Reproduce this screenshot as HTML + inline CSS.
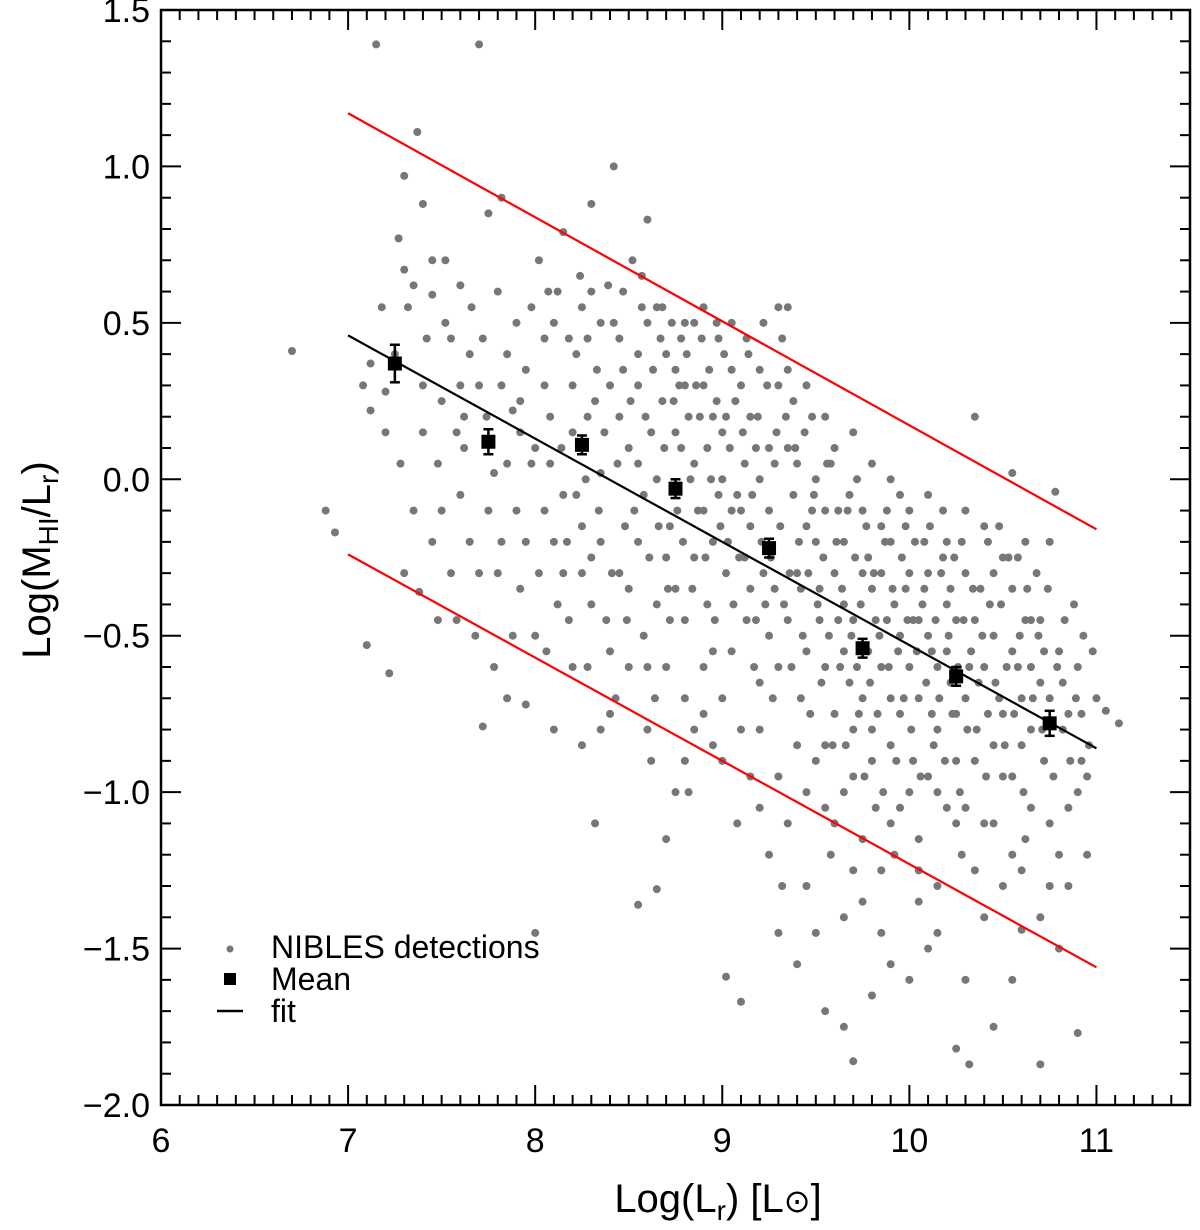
<!DOCTYPE html>
<html><head><meta charset="utf-8">
<style>
html,body{margin:0;padding:0;background:#fff;}
svg{display:block;font-family:"Liberation Sans",Arial,sans-serif;}
</style></head>
<body>
<svg id="chart" width="1200" height="1230" viewBox="0 0 1200 1230" xmlns="http://www.w3.org/2000/svg">
<g id="dots"></g>
<g id="lines"></g>
<g id="means"></g>
<g id="axes"></g>
<g>
  <circle cx="230" cy="949" r="3.5" fill="#777"/>
  <text x="271" y="958" font-size="32">NIBLES detections</text>
  <rect x="224" y="973" width="12" height="12" fill="#000"/>
  <text x="271" y="990" font-size="32">Mean</text>
  <line x1="217" y1="1011" x2="243" y2="1011" stroke="#000" stroke-width="2.5"/>
  <text x="271" y="1022" font-size="32">fit</text>
</g>
<text x="718" y="1212" font-size="40" text-anchor="middle">Log(L<tspan font-size="28" dy="8">r</tspan><tspan dy="-8">) [L</tspan><tspan font-size="32">⊙</tspan>]</text>
<text transform="translate(50,560) rotate(-90)" font-size="40" text-anchor="middle">Log(M<tspan font-size="28" dy="8">HI</tspan><tspan dy="-8">/L</tspan><tspan font-size="28" dy="8">r</tspan><tspan dy="-8">)</tspan></text>
</svg>
<script>
const xTicks=[6,7,8,9,10,11];
const yTicks=[1.5,1.0,0.5,0.0,-0.5,-1.0,-1.5,-2.0];
const yTickLabels=["1.5","1.0","0.5","0.0","\u22120.5","\u22121.0","\u22121.5","\u22122.0"];
const meanX=[7.25,7.75,8.25,8.75,9.25,9.75,10.25,10.75];
const meanY=[0.37,0.12,0.11,-0.03,-0.22,-0.54,-0.63,-0.78];
const meanErr=[0.06,0.04,0.03,0.03,0.03,0.03,0.03,0.04];
const fitLine=[[7,0.46],[11,-0.86]];
const upperLine=[[7,1.17],[11,-0.16]];
const lowerLine=[[7,-0.24],[11,-1.56]];
const pts=[
[6.7,0.41],[6.88,-0.1],[6.93,-0.17],[7.15,1.39],[7.7,1.39],[7.37,1.11],[8.42,1.0],[7.27,0.77],[7.1,-0.53],[7.22,-0.62],[7.3,-0.3],[7.38,-0.36],[7.72,-0.79],[8.3,0.88],[8.15,0.79],[8.6,0.83],[10.35,0.2],[10.55,0.02],[10.78,-0.04],[11.12,-0.78],[11.05,-0.74],[10.9,-1.77],[10.7,-1.87],[10.25,-1.82],[10.32,-1.87],[9.7,-1.86],[9.65,-1.75],[9.1,-1.67],[9.02,-1.59],[8.55,-1.36],[8.32,-1.1],[7.85,-0.7],[7.95,-0.72],[8.65,-1.31],[9.4,-1.55],[9.85,-1.45],[10.0,-1.6],[10.5,-1.3],[10.6,-1.44],[10.45,-1.75],[10.8,-1.5],[8.0,-1.45],[7.3,0.97],[7.4,0.88],[7.3,0.67],[7.45,0.59],[7.18,0.55],[7.08,0.3],[7.12,0.22],[7.2,0.15],[7.28,0.05],[7.35,-0.1],[7.4,0.3],[7.48,0.05],[7.5,0.25],[7.55,0.45],[7.6,0.62],[7.62,0.1],[7.65,-0.2],[7.58,-0.45],[7.68,-0.5],[7.75,0.85],[7.8,0.6],[7.82,0.9],[7.85,0.4],[7.88,0.22],[7.9,-0.1],[7.92,-0.35],[7.78,-0.6],[7.7,0.3],[7.98,0.55],[8.02,0.7],[8.05,0.3],[8.08,0.05],[8.1,-0.2],[8.12,-0.4],[8.06,-0.55],[8.18,0.45],[8.2,0.15],[8.22,-0.05],[8.25,-0.3],[8.28,-0.6],[8.3,0.6],[8.33,0.35],[8.35,0.02],[8.38,-0.45],[8.4,-0.75],[8.42,0.5],[8.45,0.2],[8.48,-0.15],[8.5,-0.35],[8.52,0.7],[8.55,0.4],[8.58,-0.05],[8.6,-0.6],[8.62,-0.9],[8.65,0.55],[8.68,0.25],[8.7,-0.25],[8.72,-0.45],[8.75,0.35],[8.78,0.1],[8.8,-0.7],[8.82,-1.0],[8.85,0.5],[8.88,0.2],[8.9,-0.1],[8.92,-0.4],[8.95,-0.85],[8.98,0.45],[9.0,0.15],[9.02,-0.3],[9.05,-0.55],[9.08,-1.1],[9.1,0.3],[9.12,0.05],[9.15,-0.15],[9.18,-0.45],[9.2,-0.8],[9.22,0.5],[9.25,0.1],[9.28,-0.35],[9.3,-0.6],[9.32,-1.3],[9.35,0.35],[9.38,-0.05],[9.4,-0.3],[9.42,-0.7],[9.45,-1.0],[9.48,0.2],[9.5,-0.2],[9.52,-0.45],[9.55,-0.85],[9.58,-1.2],[9.6,0.1],[9.62,-0.1],[9.65,-0.4],[9.68,-0.65],[9.7,-0.95],[9.72,0.0],[9.75,-0.3],[9.78,-0.55],[9.8,-0.8],[9.82,-1.05],[9.85,-0.15],[9.88,-0.45],[9.9,-0.7],[9.92,-1.2],[9.95,-0.05],[9.98,-0.35],[10.0,-0.6],[10.02,-0.9],[10.05,-1.35],[10.08,-0.2],[10.1,-0.5],[10.12,-0.75],[10.15,-1.0],[10.18,-0.1],[10.2,-0.4],[10.22,-0.65],[10.25,-0.9],[10.28,-1.2],[10.3,-0.3],[10.33,-0.55],[10.36,-0.8],[10.4,-1.1],[10.42,-0.2],[10.45,-0.5],[10.48,-0.7],[10.5,-0.95],[10.55,-0.35],[10.58,-0.6],[10.6,-0.85],[10.62,-1.15],[10.65,-0.45],[10.7,-0.65],[10.72,-0.9],[10.75,-1.3],[10.8,-0.55],[10.82,-0.8],[10.85,-1.05],[10.9,-0.6],[10.92,-0.9],[10.95,-1.2],[11.0,-0.7],[10.98,-0.55],
[7.52,0.7],[7.6,0.3],[7.72,0.45],[7.95,0.35],[8.12,0.6],[8.2,0.3],[8.28,0.2],[8.35,0.5],[8.45,0.45],[8.5,0.1],[8.55,0.3],[8.6,0.5],[8.65,0.0],[8.7,0.4],[8.75,0.15],[8.8,0.5],[8.85,0.05],[8.9,0.3],[8.95,0.2],[9.0,0.0],[9.05,0.35],[9.1,-0.1],[9.15,0.2],[9.2,0.0],[9.25,-0.1],[9.3,0.3],[9.35,0.1],[9.4,0.05],[9.45,-0.15],[9.5,0.0],[9.55,-0.1],[9.6,-0.3],[9.65,-0.2],[9.7,-0.45],[9.75,-0.1],[9.8,-0.35],[9.85,-0.3],[9.9,-0.2],[9.95,-0.5],[10.0,-0.3],[10.05,-0.45],[10.1,-0.3],[10.15,-0.6],[10.2,-0.55],[10.25,-0.45],[10.3,-0.7],[10.35,-0.45],[10.4,-0.6],[10.45,-0.3],[10.5,-0.75],[10.55,-0.55],[10.6,-0.7],[10.65,-0.6],[10.7,-0.45],[10.75,-0.7],[10.85,-0.75],[10.88,-0.4],
[8.0,0.1],[8.05,-0.1],[8.15,-0.3],[8.25,-0.15],[8.35,-0.2],[8.45,-0.3],[8.55,-0.2],[8.65,-0.4],[8.75,-0.35],[8.85,-0.25],[8.95,-0.2],[9.05,-0.1],[9.15,-0.35],[9.25,-0.5],[9.35,-0.45],[9.45,-0.55],[9.55,-0.6],[9.65,-0.55],[9.75,-0.7],[9.85,-0.6],[9.95,-0.75],[10.05,-0.7],[10.15,-0.8],[10.25,-0.75],[10.35,-0.9],[10.45,-0.85],[10.55,-0.95],[10.65,-0.8],[9.5,-0.9],[9.6,-0.75],[9.7,-0.8],[9.8,-0.9],[9.9,-0.85],[10.0,-1.0],[10.1,-0.95],[10.2,-1.05],[9.3,-0.95],[9.2,-1.05],[9.0,-0.9],[8.9,-0.6],[8.8,-0.45],[8.7,-0.6],[8.6,-0.8],[8.5,-0.6],[8.4,-0.55],[8.3,-0.4],[8.2,-0.6],[8.15,-0.05],[7.85,0.05],[7.62,0.2],[7.55,-0.3],[7.45,-0.2],[7.42,0.45],[7.25,0.4],[7.2,0.28],[7.32,0.55],[7.12,0.37],[9.3,0.55],[9.35,0.55],[9.05,0.5],[8.9,0.55],[8.8,0.3],[8.98,-0.05],[9.12,-0.25],[9.22,-0.3],[9.42,-0.35],[9.52,-0.35],[9.62,-0.45],[9.72,-0.6],[9.82,-0.45],[9.92,-0.4],[10.02,-0.45],[10.12,-0.55],[10.22,-0.35],[10.32,-0.6],[10.42,-0.75],[10.52,-0.6],[10.62,-0.45],[10.72,-0.55],[10.82,-0.65],[10.92,-0.75],[9.45,-1.3],[9.55,-1.05],[9.65,-1.0],[9.75,-1.15],[9.85,-1.25],[9.95,-1.05],[10.05,-1.15],[10.15,-1.3],[10.25,-1.1],[10.35,-1.25],[10.45,-1.1],[10.55,-1.2],[10.65,-1.05],[10.75,-1.1],[10.85,-1.3],[10.95,-0.95],[9.25,-1.2],[9.15,-0.95],[8.85,-0.8],[8.75,-1.0],[8.95,-0.55],[9.65,-1.4],[9.9,-1.55],[10.1,-1.5],[10.3,-1.6],[10.55,-1.6],[10.7,-1.4],[9.55,-1.7],[9.8,-1.65],[9.3,-1.45],[8.7,-1.15],[8.35,-0.8],[8.1,-0.8],[8.25,-0.85],[7.8,-0.3],[7.88,-0.5],[7.75,-0.1],[7.95,-0.2],[8.05,0.45],[8.25,0.55],[8.4,0.3],[8.55,0.05],[8.62,0.15],[8.72,-0.15],[8.82,0.2],[8.92,0.1],[9.02,0.2],[9.08,-0.05],[9.18,0.1],[9.28,0.05],[9.38,0.25],[9.48,-0.1],[9.58,0.05],[9.68,-0.05],[9.78,-0.25],[9.88,-0.1],[9.98,-0.15],[10.08,-0.35],[10.18,-0.25],[10.28,-0.2],[10.38,-0.35],[10.48,-0.15],[10.58,-0.25],[10.68,-0.3],
[7.35,0.62],[7.45,0.7],[7.52,0.5],[7.58,0.15],[7.66,0.55],[7.74,0.2],[7.78,0.02],[7.82,0.3],[7.9,0.5],[7.92,0.15],[7.98,0.05],[8.02,-0.3],[8.08,0.2],[8.1,0.5],[8.14,0.1],[8.17,-0.2],[8.22,0.4],[8.24,0.65],[8.27,0.0],[8.32,0.25],[8.34,-0.1],[8.37,0.15],[8.39,0.62],[8.41,-0.3],[8.44,0.05],[8.47,0.35],[8.49,-0.45],[8.51,0.25],[8.53,-0.1],[8.57,0.55],[8.59,0.2],[8.61,-0.25],[8.63,0.35],[8.66,-0.15],[8.67,0.45],[8.69,0.1],[8.71,-0.35],[8.73,0.5],[8.74,0.25],[8.76,-0.1],[8.77,0.3],[8.79,-0.2],[8.81,0.4],[8.83,0.0],[8.84,-0.35],[8.86,0.3],[8.87,-0.1],[8.89,0.45],[8.91,-0.25],[8.93,0.35],[8.94,0.0],[8.96,-0.45],[8.97,0.25],[8.99,-0.15],[9.01,0.4],[9.03,-0.2],[9.04,0.1],[9.06,-0.4],[9.07,0.25],[9.09,-0.25],[9.11,0.15],[9.13,-0.45],[9.14,0.4],[9.16,-0.05],[9.17,-0.6],[9.19,0.2],[9.21,-0.2],[9.23,-0.4],[9.24,0.3],[9.26,-0.25],[9.27,-0.7],[9.29,0.15],[9.31,-0.15],[9.33,-0.4],[9.34,0.2],[9.36,-0.3],[9.37,-0.6],[9.39,0.1],[9.41,-0.2],[9.43,-0.5],[9.44,0.15],[9.46,-0.3],[9.47,-0.75],[9.49,-0.05],[9.51,-0.4],[9.53,-0.65],[9.54,-0.25],[9.56,0.05],[9.57,-0.5],[9.59,-0.85],[9.61,-0.2],[9.63,-0.6],[9.64,-0.35],[9.66,-0.85],[9.67,-0.1],[9.69,-0.5],[9.71,-0.25],[9.73,-0.75],[9.74,-0.4],[9.76,-0.95],[9.77,-0.15],[9.79,-0.65],[9.81,-0.3],[9.83,-0.75],[9.84,-0.5],[9.86,-1.0],[9.87,-0.2],[9.89,-0.6],[9.91,-0.35],[9.93,-0.9],[9.94,-0.55],[9.96,-0.25],[9.97,-0.7],[9.99,-0.45],[10.01,-0.8],[10.03,-0.2],[10.04,-0.55],[10.06,-0.95],[10.07,-0.4],[10.09,-0.65],[10.11,-0.15],[10.13,-0.85],[10.14,-0.45],[10.16,-0.7],[10.17,-0.3],[10.19,-0.9],[10.21,-0.5],[10.23,-0.75],[10.24,-0.25],[10.26,-0.6],[10.27,-1.0],[10.29,-0.45],[10.31,-0.8],[10.34,-0.35],[10.37,-0.65],[10.39,-0.5],[10.41,-0.95],[10.43,-0.4],[10.46,-0.65],[10.49,-0.4],[10.51,-0.85],[10.53,-0.25],[10.56,-0.75],[10.59,-0.5],[10.61,-1.0],[10.63,-0.35],[10.66,-0.7],[10.69,-0.5],[10.71,-0.8],[10.74,-0.35],[10.77,-0.95],[10.79,-0.6],[10.83,-0.45],[10.86,-0.9],[10.89,-0.7],[10.93,-0.5],[10.96,-0.85],[8.0,-0.5],[8.18,-0.45],[8.3,-0.25],[8.43,-0.7],[8.58,-0.5],[8.64,-0.7],[8.8,-0.9],[8.9,-0.75],[9.0,-0.7],[9.1,-0.8],[9.2,-0.65],[9.4,-0.85],[9.6,-1.1],[9.7,-1.25],[9.9,-1.1],[10.05,-1.25],[10.3,-1.05],[10.4,-1.4],[10.6,-1.25],[10.8,-1.2],[9.35,-1.1],[9.5,-1.45],[9.75,-1.35],[10.15,-1.45],[10.9,-1.0],[7.5,-0.1],[7.6,-0.05],[7.4,0.15],[7.48,-0.45],[7.65,0.4],[7.7,-0.3],[7.82,-0.2],[7.92,0.25],[8.07,0.6],[8.28,0.45],[8.47,0.6],[8.57,0.65],[8.68,0.55],[8.78,0.45],[8.97,0.5],[9.13,0.45],[9.2,0.35],[9.32,0.45],[9.45,0.3],[9.55,0.2],[9.7,0.15],[9.8,0.05],[9.9,0.0],[10.0,-0.1],[10.1,-0.05],[10.2,-0.2],[10.3,-0.1],[10.4,-0.15],[10.5,-0.25],[10.62,-0.2],[10.75,-0.2]
];
const X0=161,X1=1190,Y0=10,Y1=1105,XMIN=6,XMAX=11.5,YMIN=-2.0,YMAX=1.5;
const sx=v=>X0+(v-XMIN)/(XMAX-XMIN)*(X1-X0);
const sy=v=>Y1-(v-YMIN)/(YMAX-YMIN)*(Y1-Y0);
const NS="http://www.w3.org/2000/svg";
function mk(tag,parent,attrs){const e=document.createElementNS(NS,tag);for(const k in attrs)e.setAttribute(k,attrs[k]);parent.appendChild(e);return e;}
const dots=document.getElementById('dots');
pts.forEach(p=>{
  const c=mk('circle',dots,{cx:sx(p[0]),cy:sy(p[1]),r:4,fill:'#777'});
  
  
});
const lines=document.getElementById('lines');
[[upperLine,'#f00','upper-bound-line'],[lowerLine,'#f00','lower-bound-line'],[fitLine,'#000','fit-line']].forEach(d=>{
  const l=mk('line',lines,{x1:sx(d[0][0][0]),y1:sy(d[0][0][1]),x2:sx(d[0][1][0]),y2:sy(d[0][1][1]),stroke:d[1],'stroke-width':2.2});
  
  
});
const means=document.getElementById('means');
meanX.forEach((x,i)=>{
  const g=mk('g',means,{});
  
  
  const cx=sx(x),ya=sy(meanY[i]+meanErr[i]),yb=sy(meanY[i]-meanErr[i]);
  mk('line',g,{x1:cx,y1:ya,x2:cx,y2:yb,stroke:'#000','stroke-width':2.5});
  mk('line',g,{x1:cx-5,y1:ya,x2:cx+5,y2:ya,stroke:'#000','stroke-width':2.5});
  mk('line',g,{x1:cx-5,y1:yb,x2:cx+5,y2:yb,stroke:'#000','stroke-width':2.5});
  mk('rect',g,{x:cx-7,y:sy(meanY[i])-7,width:14,height:14,fill:'#000'});
});
const ax=document.getElementById('axes');
const fr=mk('rect',ax,{x:X0,y:Y0,width:X1-X0,height:Y1-Y0,fill:'none',stroke:'#000','stroke-width':2.5});


for(let k=0;k<=55;k++){
  const v=6+k*0.1,x=sx(v),maj=(k%10===0),L=maj?20:10;
  mk('line',ax,{x1:x,y1:Y1,x2:x,y2:Y1-L,stroke:'#000','stroke-width':2});
  mk('line',ax,{x1:x,y1:Y0,x2:x,y2:Y0+L,stroke:'#000','stroke-width':2});
}
for(let k=0;k<=35;k++){
  const v=-2+k*0.1,y=sy(v),maj=(k%5===0),L=maj?20:10;
  mk('line',ax,{x1:X0,y1:y,x2:X0+L,y2:y,stroke:'#000','stroke-width':2});
  mk('line',ax,{x1:X1,y1:y,x2:X1-L,y2:y,stroke:'#000','stroke-width':2});
}
xTicks.forEach(v=>{
  const t=mk('text',ax,{x:sx(v),y:1152,'font-size':34,'text-anchor':'middle'});
  t.textContent=v;
  
  
});
yTicks.forEach((v,i)=>{
  const t=mk('text',ax,{x:150,y:sy(v)+12,'font-size':34,'text-anchor':'end'});
  t.textContent=yTickLabels[i];
  
  
});
</script>
</body></html>
